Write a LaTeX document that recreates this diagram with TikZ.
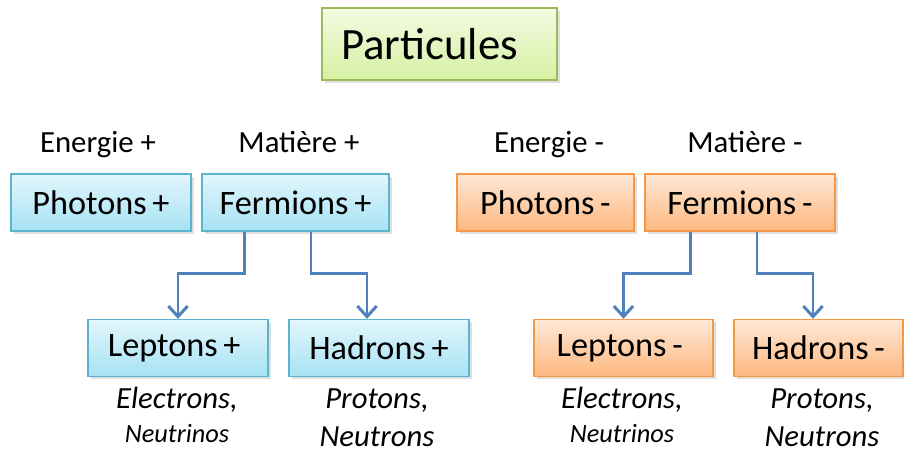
\documentclass[tikz,border=0pt]{standalone}
\usepackage{fontspec}
\setmainfont{Carlito}
\usetikzlibrary{arrows.meta, positioning, shadows}
\definecolor{PlusLine}{HTML}{5BB4CF}
\definecolor{PlusTop}{HTML}{E2F6FC}
\definecolor{PlusBottom}{HTML}{A6E2F4}
\definecolor{MinusLine}{HTML}{F79646}
\definecolor{MinusTop}{HTML}{FFE8D6}
\definecolor{MinusBottom}{HTML}{FDB880}
\definecolor{TitleLine}{HTML}{9BBB59}
\definecolor{TitleTop}{HTML}{F4FBE3}
\definecolor{TitleBottom}{HTML}{D5F0A2}
\definecolor{LinkBlue}{HTML}{4F81BD}
\newcommand{\padright}[1]{\rule{#1}{0pt}}

\begin{document}
\begin{tikzpicture}[x=0.02cm, y=-0.02cm,
  box/.style={draw, line width=0.8pt, minimum width=3.6cm, minimum height=1.14cm, inner sep=0pt,
    font=\fontsize{19.5}{22}\selectfont, drop shadow={opacity=0.25, shadow xshift=1.5pt, shadow yshift=-1.5pt}},
  plusbox/.style={box, draw=PlusLine, top color=PlusTop, bottom color=PlusBottom},
  minusbox/.style={box, draw=MinusLine, top color=MinusTop, bottom color=MinusBottom},
  titlebox/.style={box, draw=TitleLine, top color=TitleTop, bottom color=TitleBottom,
    minimum width=4.7cm, minimum height=1.44cm, font=\fontsize{25.5}{28}\selectfont},
  caption/.style={font=\fontsize{17.5}{20}\selectfont, inner sep=0pt, anchor=base},
  example/.style={font=\fontsize{17.5}{20}\selectfont\itshape, inner sep=0pt, anchor=base},
  small example/.style={font=\fontsize{15}{18}\selectfont\itshape, inner sep=0pt, anchor=base},
  link/.style={-{Straight Barb[length=6pt, width=11pt]}, line width=1.7pt, LinkBlue}]
  \useasboundingbox (0,0) rectangle (904,452);

  \node[titlebox] (part) at (439.5,44) {Particules\padright{0.4cm}};

  % matter side
  \node[caption] (energp) at (98,153) {Energie +};
  \node[caption] (matp) at (299,153) {Matière +};
  \node[plusbox] (photp) at (101,202.5) {Photons\,+};
  \node[plusbox, minimum width=3.74cm] (fermp) at (295.5,202.5) {Fermions\,+};
  \node[plusbox] (leptp) at (178,348) {Leptons\,+\padright{0.15cm}};
  \node[plusbox] (hadp) at (379,348) {Hadrons\,+};
  \node[example] (elecp) at (177,409) {Electrons,};
  \node[small example] (neutrp) at (177,443) {Neutrinos};
  \node[example] (protp) at (377,409) {Protons,};
  \node[example] (neutp) at (377,447) {Neutrons};

  % antimatter side
  \node[caption] (energm) at (549,153) {Energie -};
  \node[caption] (matm) at (745,153) {Matière -};
  \node[minusbox, minimum width=3.54cm] (photm) at (545.5,202.5) {Photons\,-};
  \node[minusbox, minimum width=3.8cm] (fermm) at (740,202.5) {Fermions\,-};
  \node[minusbox, minimum width=3.58cm] (leptm) at (623.5,348) {Leptons\,-\padright{0.15cm}};
  \node[minusbox, minimum width=3.38cm] (hadm) at (818.5,348) {Hadrons\,-};
  \node[example] (elecm) at (622,409) {Electrons,};
  \node[small example] (neutrm) at (622,443) {Neutrinos};
  \node[example] (protm) at (822,409) {Protons,};
  \node[example] (neutm) at (822,447) {Neutrons};

  \draw[link] ([xshift=-1.03cm]fermp.south) -- ++(0,42) -| (leptp.north);
  \draw[link] ([xshift=0.31cm]fermp.south) -- ++(0,42) -| ([xshift=-0.24cm]hadp.north);
  \draw[link] ([xshift=-1.0cm]fermm.south) -- ++(0,42) -| (leptm.north);
  \draw[link] ([xshift=0.34cm]fermm.south) -- ++(0,42) -| ([xshift=-0.11cm]hadm.north);
\end{tikzpicture}
\end{document}
